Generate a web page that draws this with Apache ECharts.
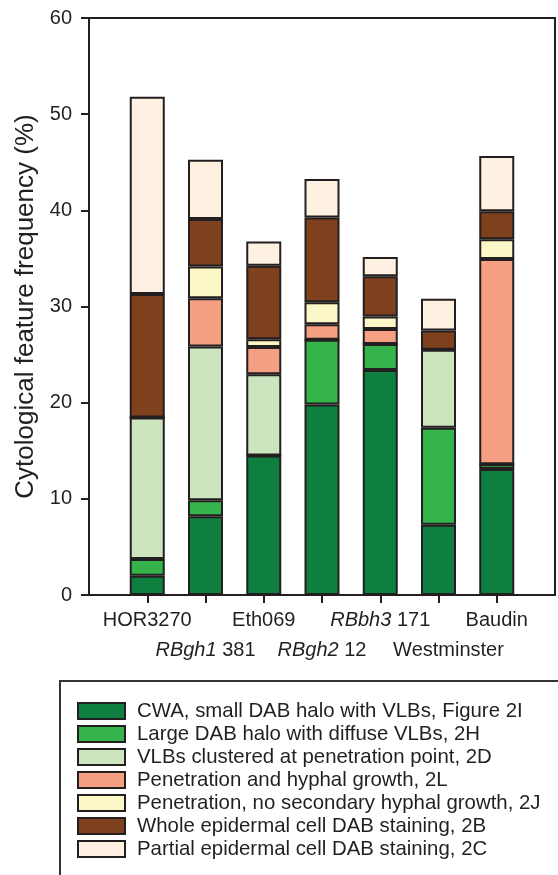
<!DOCTYPE html>
<html>
<head>
<meta charset="utf-8">
<script src="https://cdn.jsdelivr.net/npm/echarts@6/dist/echarts.min.js"></script>
<style>html,body{margin:0;padding:0;background:#fff;}#c{width:558px;height:875px;}</style>
</head>
<body>
<div id="c"></div>
<script>
// Categories (strains), in plotting order
var categories = ['HOR3270', 'RBgh1 381', 'Eth069', 'RBgh2 12', 'RBbh3 171', 'Westminster', 'Baudin'];
// Series values (%)
var cwa       = [2.0, 8.2, 14.5, 19.8, 23.4, 7.3, 13.1];
var largeDab  = [1.75, 1.65, 0, 6.75, 2.7, 10.1, 0.5];
var vlbs      = [14.7, 16.0, 8.45, 0, 0, 8.1, 0];
var penHyphal = [0, 5.0, 2.85, 1.6, 1.55, 0, 21.35];
var penNoSec  = [0, 3.3, 0.8, 2.3, 1.3, 0, 2.05];
var whole     = [12.85, 4.95, 7.65, 8.8, 4.2, 2.0, 2.9];
var partial   = [20.5, 6.15, 2.5, 4.0, 2.0, 3.3, 5.75];
var seriesNames = [
  'CWA, small DAB halo with VLBs, Figure 2I',
  'Large DAB halo with diffuse VLBs, 2H',
  'VLBs clustered at penetration point, 2D',
  'Penetration and hyphal growth, 2L',
  'Penetration, no secondary hyphal growth, 2J',
  'Whole epidermal cell DAB staining, 2B',
  'Partial epidermal cell DAB staining, 2C'
];
var yTicks = [0, 10, 20, 30, 40, 50, 60];

var colors = ['#0e7f3f', '#34b44a', '#cce5bf', '#f6a083', '#fbf7c6', '#7f411d', '#fef1e2'];
var ink = '#231f20';
var font = 'Liberation Sans, Arial, Helvetica, sans-serif';

// pad the category axis with empty slots at both ends
var axisCats = [''].concat(categories, ['']);
function pad(arr) { return ['-'].concat(arr, ['-']); }
var allData = [cwa, largeDab, vlbs, penHyphal, penNoSec, whole, partial];

var italicPart = { 'RBgh1 381': ['RBgh1', ' 381'], 'RBgh2 12': ['RBgh2', ' 12'], 'RBbh3 171': ['RBbh3', ' 171'] };

var chart = echarts.init(document.getElementById('c'), null, { renderer: 'canvas' });
var option = {
  backgroundColor: '#fff',
  animation: false,
  textStyle: { fontFamily: font, color: ink },
  grid: {
    left: 89, right: 1.5, top: 18, bottom: 280,
    show: true, borderColor: ink, borderWidth: 2, backgroundColor: 'transparent'
  },
  xAxis: {
    type: 'category',
    data: axisCats,
    boundaryGap: false,
    axisLine: { lineStyle: { color: ink, width: 2 } },
    axisTick: {
      length: 8, lineStyle: { color: ink, width: 2 },
      interval: function (i) { return i > 0 && i < axisCats.length - 1; }
    },
    axisLabel: {
      interval: 0,
      margin: 10,
      fontSize: 20,
      lineHeight: 30,
      color: ink,
      fontFamily: font,
      formatter: function (v, i) {
        if (!v) return '';
        var second = (i % 2 === 0);
        var txt;
        if (italicPart[v]) {
          txt = '{it|' + italicPart[v][0] + '}{n|' + italicPart[v][1] + '}';
        } else if (v === 'Westminster') {
          txt = '{w|' + v + '}';
        } else {
          txt = '{n|' + v + '}';
        }
        return second ? '{n| }\n' + txt : txt;
      },
      rich: {
        n: { fontSize: 20, lineHeight: 30, color: ink, fontFamily: font },
        it: { fontSize: 20, lineHeight: 30, color: ink, fontFamily: font, fontStyle: 'italic' },
        w: { fontSize: 20, lineHeight: 30, color: ink, fontFamily: font, padding: [0, 0, 0, 20] }
      }
    },
    splitLine: { show: false }
  },
  yAxis: {
    type: 'value',
    min: yTicks[0],
    max: yTicks[yTicks.length - 1],
    interval: yTicks[1] - yTicks[0],
    name: 'Cytological feature frequency (%)',
    nameLocation: 'middle',
    nameGap: 48,
    nameTextStyle: { fontSize: 26, color: ink, fontFamily: font },
    axisLine: { show: true, lineStyle: { color: ink, width: 2 } },
    axisTick: { show: true, length: 8, lineStyle: { color: ink, width: 2 } },
    axisLabel: { fontSize: 20, color: ink, margin: 17, fontFamily: font },
    splitLine: { show: false }
  },
  legend: {
    orient: 'vertical',
    left: 77,
    top: 701,
    padding: 0,
    itemWidth: 47,
    itemHeight: 16,
    itemGap: 3,
    icon: 'rect',
    itemStyle: { borderColor: ink, borderWidth: 2 },
    textStyle: { fontSize: 20.4, lineHeight: 20, color: ink, fontFamily: font, padding: [0, 0, 0, 7] },
    data: seriesNames
  },
  graphic: [{
    type: 'rect',
    shape: { x: 60, y: 681, width: 620, height: 320 },
    style: { fill: 'none', stroke: '#333', lineWidth: 2 },
    silent: true
  }],
  series: allData.map(function (arr, k) {
    return {
      name: seriesNames[k],
      type: 'bar',
      stack: 'total',
      barWidth: 35,
      data: pad(arr),
      itemStyle: { color: colors[k], borderColor: ink, borderWidth: 2 }
    };
  })
};
chart.setOption(option);
</script>
</body>
</html>
